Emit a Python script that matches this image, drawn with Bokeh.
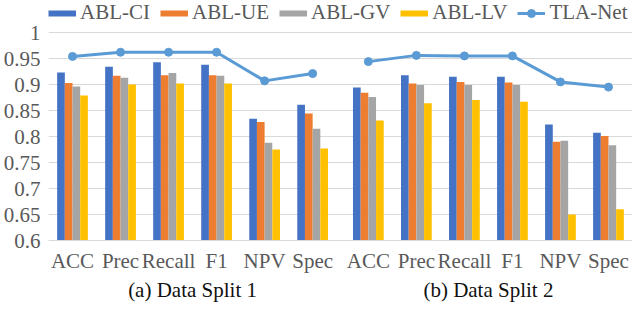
from bokeh.plotting import figure
from bokeh.models import (ColumnDataSource, FactorRange, Range1d, Legend, LegendItem,
                          FixedTicker, CustomJSTickFormatter)
from bokeh.transform import dodge
from bokeh.embed import file_html
from bokeh.resources import INLINE

metrics = ["ACC", "Prec", "Recall", "F1", "NPV", "Spec"]
bar_series = ["ABL-CI", "ABL-UE", "ABL-GV", "ABL-LV"]
line_series = "TLA-Net"
captions = ["(a) Data Split 1", "(b) Data Split 2"]

split1_ci = [0.923, 0.934, 0.943, 0.938, 0.834, 0.861]
split1_ue = [0.903, 0.917, 0.918, 0.918, 0.828, 0.844]
split1_gv = [0.896, 0.913, 0.922, 0.917, 0.788, 0.815]
split1_lv = [0.879, 0.900, 0.902, 0.902, 0.775, 0.777]
split1_tla = [0.954, 0.962, 0.962, 0.962, 0.907, 0.921]

split2_ci = [0.894, 0.918, 0.915, 0.915, 0.823, 0.807]
split2_ue = [0.884, 0.902, 0.905, 0.904, 0.790, 0.801]
split2_gv = [0.876, 0.899, 0.899, 0.899, 0.792, 0.783]
split2_lv = [0.831, 0.864, 0.870, 0.867, 0.650, 0.660]
split2_tla = [0.944, 0.956, 0.955, 0.955, 0.905, 0.895]

y_ticks = [0.6, 0.65, 0.7, 0.75, 0.8, 0.85, 0.9, 0.95, 1.0]
y_tick_labels = ["0.6", "0.65", "0.7", "0.75", "0.8", "0.85", "0.9", "0.95", "1"]

bar_colors = ["#4472C4", "#ED7D31", "#A5A5A5", "#FFC000"]
line_color = "#5B9BD5"
grid_color = "#D9D9D9"
text_color = "#595959"
FONT = "Liberation Serif"
FS = "21px"
offsets = [-0.24, -0.08, 0.08, 0.24]
BAR_W = 0.16
FRAME_H = 240
Y_LO, Y_HI = 0.6, 1.0
# extra headroom above 1.0 inside the frame holds the legend
Y_TOP = Y_LO + (Y_HI - Y_LO) * FRAME_H / 208

factors = [(captions[0], m) for m in metrics] + [(captions[1], m) for m in metrics]
src = ColumnDataSource(dict(
    x=factors,
    ci=split1_ci + split2_ci,
    ue=split1_ue + split2_ue,
    gv=split1_gv + split2_gv,
    lv=split1_lv + split2_lv,
))
tla_src1 = ColumnDataSource(dict(x=factors[:6], y=split1_tla))
tla_src2 = ColumnDataSource(dict(x=factors[6:], y=split2_tla))
# legend swatches for the bar series (no visible data of their own)
swatch_src = ColumnDataSource(dict(x=[factors[0]], y=[float("nan")]))

p = figure(x_range=FactorRange(*factors, group_padding=0.16, factor_padding=0.0,
                               range_padding=0.0),
           y_range=Range1d(Y_LO, Y_TOP),
           frame_width=584, frame_height=FRAME_H,
           min_border_top=0, min_border_left=0, min_border_right=0, min_border_bottom=0,
           output_backend="svg", toolbar_location=None)

proxies = {}
for k, off, c, name in zip(["ci", "ue", "gv", "lv"], offsets, bar_colors, bar_series):
    p.vbar(x=dodge("x", off, range=p.x_range), top=k, bottom=0, width=BAR_W,
           source=src, fill_color=c, line_color=None)
    proxies[name] = [p.line(x="x", y="y", source=swatch_src, line_color=c,
                            line_width=6)]

l1 = p.line(x="x", y="y", source=tla_src1, line_color=line_color, line_width=3)
s1 = p.scatter(x="x", y="y", source=tla_src1, size=8, fill_color=line_color,
               line_color=line_color)
p.line(x="x", y="y", source=tla_src2, line_color=line_color, line_width=3)
p.scatter(x="x", y="y", source=tla_src2, size=8, fill_color=line_color,
          line_color=line_color)
proxies[line_series] = [l1, s1]

items = [LegendItem(label=n, renderers=proxies[n]) for n in bar_series + [line_series]]
leg = Legend(items=items, orientation="horizontal", location="top_left",
             glyph_width=28, glyph_height=20, label_standoff=4, spacing=10,
             padding=0, margin=0, border_line_color=None, background_fill_alpha=0,
             label_text_font=FONT, label_text_font_size=FS,
             label_text_color=text_color, label_height=20)
p.add_layout(leg, "center")

p.xgrid.grid_line_color = None
p.ygrid.grid_line_color = grid_color
p.ygrid.grid_line_width = 1
p.yaxis.ticker = FixedTicker(ticks=y_ticks)
p.yaxis.formatter = CustomJSTickFormatter(
    args=dict(tv=y_ticks, tl=y_tick_labels),
    code="""
    for (let i = 0; i < tv.length; i++) {
      if (Math.abs(tv[i] - tick) < 1e-6) return tl[i];
    }
    return '';
    """)
p.yaxis.axis_line_color = None
p.yaxis.major_tick_line_color = None
p.yaxis.minor_tick_line_color = None
p.yaxis.major_label_standoff = 2
p.yaxis.major_label_text_font = FONT
p.yaxis.major_label_text_font_size = FS
p.yaxis.major_label_text_color = text_color

xa = p.xaxis[0]
xa.axis_line_color = grid_color
xa.major_tick_line_color = None
xa.minor_tick_line_color = None
xa.major_label_standoff = 2
xa.major_label_text_font = FONT
xa.major_label_text_font_size = FS
xa.major_label_text_color = text_color
xa.group_text_font = FONT
xa.group_text_font_size = FS
xa.group_text_font_style = "normal"
xa.group_text_color = "#111111"
xa.separator_line_color = None

p.outline_line_color = None
p.background_fill_color = "white"
p.border_fill_color = "white"

open("out.html", "w").write(file_html(p, INLINE))
